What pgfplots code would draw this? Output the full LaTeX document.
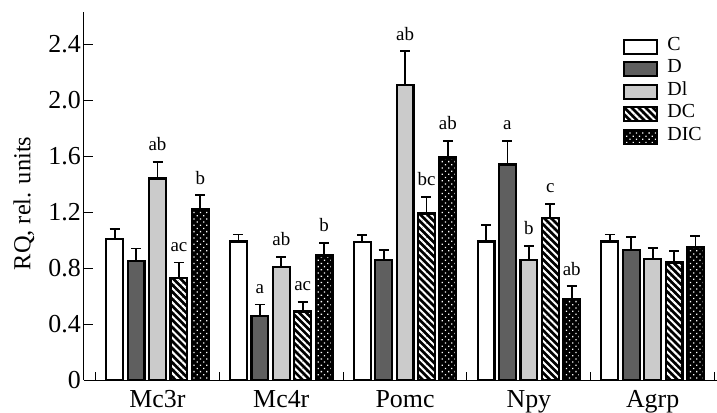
\documentclass[border=0pt]{standalone}
\usepackage{fontspec}
\setmainfont{Liberation Serif}
\usepackage{pgfplots}
\pgfplotsset{compat=1.18}
\usetikzlibrary{patterns.meta}
\definecolor{dgray}{HTML}{5F5F5F}
\definecolor{lgray}{HTML}{CBCBCB}
\begin{document}
\begin{tikzpicture}
\begin{axis}[
  scale only axis, width=633bp, height=368bp,
  xmin=-0.594, xmax=4.52, ymin=0, ymax=2.63,
  axis lines=left, axis line style={-, line width=1bp},
  tick align=inside,
  xtick={0,1,2,3,4}, xticklabels={Mc3r,Mc4r,Pomc,Npy,Agrp},
  major x tick style={draw=none},
  minor xtick={-0.5,0.5,1.5,2.5,3.5,4.5},
  minor tick length=8bp,
  ytick={0,0.4,0.8,1.2,1.6,2.0,2.4}, yticklabels={0,0.4,0.8,1.2,1.6,2.0,2.4},
  major tick length=9bp,
  tick style={line width=1bp, black},
  tick label style={font=\fontsize{26}{30}\selectfont},
  yticklabel style={anchor=east, inner sep=0pt, xshift=-3bp},
  xticklabel style={anchor=north, inner sep=0pt, yshift=-10bp},
  ylabel={RQ, rel. units},
  ylabel style={at={(axis description cs:-0.095,0.48)}, anchor=center, font=\fontsize{24.5}{28}\selectfont},
  legend style={at={(0.8515,0.935)}, anchor=north west, draw=none, fill=none,
    font=\fontsize{20}{22}\selectfont, inner sep=0pt, row sep=0pt,
    nodes={inner ysep=0pt, inner xsep=0pt, text height=14bp, text depth=8.5bp}},
  legend cell align=left,
  legend image code/.code={\draw[#1] (0bp,-6.5bp) rectangle (33bp,7.5bp);},
  every axis plot/.append style={line width=2.2bp, draw=black,
    error bars/y dir=plus, error bars/y explicit,
    error bars/error mark=|,
    error bars/error bar style={line width=1.8bp, black},
    error bars/error mark options={mark size=5bp, line width=1.8bp, black}},
]
\addplot[ybar, bar width=0.136, bar shift=0, fill=white]
  coordinates {(-0.346,1.01) +- (0,0.07) (0.654,0.99) +- (0,0.05) (1.654,0.985) +- (0,0.05) (2.654,0.99) +- (0,0.12) (3.654,0.99) +- (0,0.05)};
\addlegendentry{\hspace{9bp}C}
\addplot[ybar, bar width=0.136, bar shift=0, fill=dgray]
  coordinates {(-0.173,0.85) +- (0,0.09) (0.827,0.46) +- (0,0.08) (1.827,0.86) +- (0,0.07) (2.827,1.54) +- (0,0.17) (3.827,0.93) +- (0,0.09)};
\addlegendentry{\hspace{9bp}D}
\addplot[ybar, bar width=0.136, bar shift=0, fill=lgray]
  coordinates {(0,1.44) +- (0,0.12) (1,0.81) +- (0,0.07) (2,2.11) +- (0,0.24) (3,0.86) +- (0,0.10) (4,0.865) +- (0,0.08)};
\addlegendentry{\hspace{9bp}Dl}
\addplot[ybar, bar width=0.136, bar shift=0, preaction={fill=black},
    pattern={Lines[angle=-45,distance=5bp,line width=2bp]}, pattern color=white]
  coordinates {(0.173,0.73) +- (0,0.11) (1.173,0.49) +- (0,0.07) (2.173,1.19) +- (0,0.12) (3.173,1.16) +- (0,0.10) (4.173,0.84) +- (0,0.08)};
\addlegendentry{\hspace{9bp}DC}
\addplot[ybar, bar width=0.136, bar shift=0, preaction={fill=black},
    pattern={Dots[angle=45,distance=4.5bp,radius=0.9bp]}, pattern color=white]
  coordinates {(0.346,1.22) +- (0,0.10) (1.346,0.89) +- (0,0.09) (2.346,1.59) +- (0,0.12) (3.346,0.58) +- (0,0.09) (4.346,0.95) +- (0,0.08)};
\addlegendentry{\hspace{9bp}DIC}
\addplot[draw=none, mark=none, forget plot, error bars/y explicit=false, error bars/y dir=none,
    nodes near coords, point meta=explicit symbolic,
    nodes near coords style={anchor=base, yshift=11bp, inner sep=0pt, font=\fontsize{19}{22}\selectfont}]
  coordinates {(0,1.56)[ab] (0.173,0.84)[ac] (0.346,1.32)[b]
    (0.827,0.54)[a] (1,0.88)[ab] (1.173,0.56)[ac] (1.346,0.98)[b]
    (2,2.35)[ab] (2.173,1.31)[bc] (2.346,1.71)[ab]
    (2.827,1.71)[a] (3,0.96)[b] (3.173,1.26)[c] (3.346,0.67)[ab]};
\coordinate (sw) at (rel axis cs:0,0);
\coordinate (ne) at (rel axis cs:1,1);
\end{axis}
\pgfresetboundingbox
\path ([shift={(-84bp,-33bp)}]sw) rectangle ([shift={(0bp,12bp)}]ne);
\end{tikzpicture}
\end{document}
